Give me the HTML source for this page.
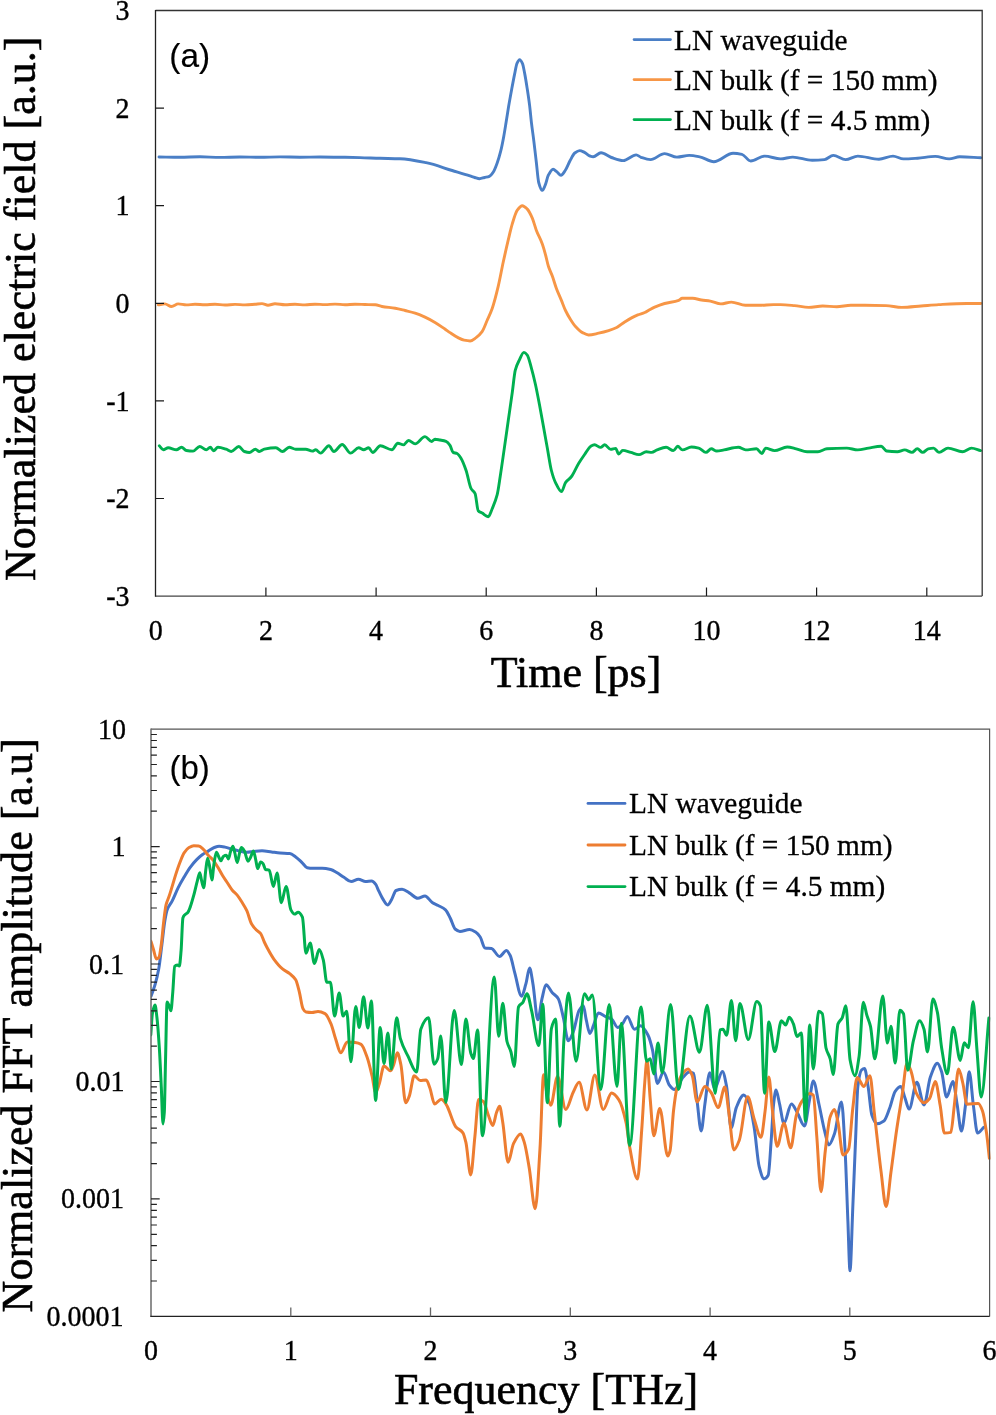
<!DOCTYPE html>
<html><head><meta charset="utf-8"><title>LN THz waveforms</title>
<style>
html,body{margin:0;padding:0;background:#fff;}
body{width:996px;height:1415px;overflow:hidden;}
svg{display:block;will-change:transform;}
.tk{font-family:"Liberation Serif", serif;font-size:28px;fill:#000;stroke:#000;stroke-width:0.35px;}
.ti{font-family:"Liberation Serif", serif;font-size:44px;fill:#000;stroke:#000;stroke-width:0.6px;}
.lg{font-family:"Liberation Serif", serif;font-size:29.35px;fill:#000;stroke:#000;stroke-width:0.3px;}
.lab{font-family:"Liberation Sans", sans-serif;font-size:33px;fill:#000;stroke:#000;stroke-width:0.15px;}
</style></head>
<body>
<svg width="996" height="1415" viewBox="0 0 996 1415">
<defs><clipPath id="clipB"><rect x="151.0" y="729.1" width="839.6" height="588.3000000000001"/></clipPath></defs>
<rect width="996" height="1415" fill="#fff"/>
<path d="M159.00,157.00 C166.00,157.10 173.00,157.30 180.00,157.30 C186.67,157.30 193.33,156.80 200.00,156.80 C206.67,156.80 213.33,157.40 220.00,157.40 C226.67,157.40 233.33,157.00 240.00,157.00 C246.67,157.00 253.33,157.30 260.00,157.30 C266.67,157.30 273.33,156.90 280.00,156.90 C286.67,156.90 293.33,157.20 300.00,157.20 C306.67,157.20 313.33,157.00 320.00,157.00 C328.33,157.00 336.67,157.17 345.00,157.30 C350.00,157.38 355.00,157.47 360.00,157.60 C366.67,157.77 373.33,158.11 380.00,158.30 C386.67,158.49 393.33,158.52 400.00,158.80 C408.70,159.16 417.40,160.97 426.10,162.70 C434.80,164.43 443.50,167.88 452.20,170.50 C458.13,172.29 464.07,174.00 470.00,175.90 C471.60,176.41 473.20,177.04 474.80,177.50 C476.40,177.96 478.00,178.70 479.60,178.70 C481.23,178.70 482.87,177.90 484.50,177.50 C486.10,177.10 487.70,176.96 489.30,176.30 C490.70,175.72 492.10,173.81 493.50,171.70 C494.70,169.89 495.90,166.61 497.10,163.30 C498.30,159.99 499.50,155.98 500.70,151.20 C501.70,147.21 502.70,142.08 503.70,136.70 C504.50,132.40 505.30,127.21 506.10,122.30 C506.93,117.19 507.77,111.54 508.60,106.60 C509.60,100.67 510.60,95.21 511.60,89.80 C512.60,84.39 513.60,78.93 514.60,74.10 C515.40,70.24 516.20,65.04 517.00,63.30 C517.87,61.41 518.73,59.60 519.60,59.60 C520.53,59.60 521.47,61.37 522.40,63.30 C523.20,64.96 524.00,69.97 524.80,74.10 C525.60,78.23 526.40,83.41 527.20,88.60 C528.00,93.79 528.80,98.94 529.60,105.40 C530.20,110.25 530.80,117.19 531.40,122.30 C532.23,129.40 533.07,134.86 533.90,141.60 C534.70,148.08 535.50,155.18 536.30,162.00 C537.10,168.82 537.90,179.59 538.70,182.50 C539.90,186.86 541.10,190.40 542.30,190.40 C543.30,190.40 544.30,187.23 545.30,184.90 C546.30,182.57 547.30,177.16 548.30,175.30 C549.90,172.32 551.50,169.30 553.10,169.30 C554.30,169.30 555.50,170.81 556.70,171.70 C558.13,172.76 559.57,175.30 561.00,175.30 C562.40,175.30 563.80,172.53 565.20,170.50 C566.80,168.18 568.40,163.68 570.00,160.80 C571.60,157.92 573.20,154.22 574.80,153.00 C576.40,151.78 578.00,150.60 579.60,150.60 C581.23,150.60 582.87,151.64 584.50,152.40 C586.33,153.26 588.17,155.42 590.00,156.00 C591.07,156.34 592.13,156.70 593.20,156.70 C595.80,156.70 598.40,152.80 601.00,152.80 C604.47,152.80 607.93,156.34 611.40,157.50 C615.33,158.81 619.27,160.60 623.20,160.60 C627.53,160.60 631.87,154.90 636.20,154.90 C637.80,154.90 639.40,156.76 641.00,157.30 C644.17,158.37 647.33,159.60 650.50,159.60 C655.20,159.60 659.90,153.60 664.60,153.60 C668.70,153.60 672.80,157.10 676.90,157.10 C681.00,157.10 685.10,155.40 689.20,155.40 C692.70,155.40 696.20,156.14 699.70,156.80 C704.40,157.69 709.10,161.70 713.80,161.70 C720.23,161.70 726.67,153.30 733.10,153.30 C736.03,153.30 738.97,153.72 741.90,154.30 C744.83,154.88 747.77,161.00 750.70,161.00 C755.37,161.00 760.03,156.10 764.70,156.10 C769.97,156.10 775.23,158.90 780.50,158.90 C784.60,158.90 788.70,157.10 792.80,157.10 C799.27,157.10 805.73,160.30 812.20,160.30 C816.30,160.30 820.40,160.04 824.50,159.60 C827.43,159.29 830.37,155.40 833.30,155.40 C837.40,155.40 841.50,159.60 845.60,159.60 C849.67,159.60 853.73,156.10 857.80,156.10 C864.83,156.10 871.87,159.20 878.90,159.20 C883.60,159.20 888.30,156.10 893.00,156.10 C896.50,156.10 900.00,158.90 903.50,158.90 C908.20,158.90 912.90,158.51 917.60,158.20 C923.47,157.81 929.33,156.40 935.20,156.40 C939.87,156.40 944.53,158.90 949.20,158.90 C952.70,158.90 956.20,156.80 959.70,156.80 C966.73,156.80 973.77,157.47 980.80,157.80" fill="none" stroke="#4A7FC6" stroke-width="2.9" stroke-linejoin="round" stroke-linecap="round"/>
<path d="M158.30,304.90 C160.50,304.57 162.70,303.90 164.90,303.90 C167.10,303.90 169.30,306.50 171.50,306.50 C173.73,306.50 175.97,303.90 178.20,303.90 C180.93,303.90 183.67,304.90 186.40,304.90 C189.27,304.90 192.13,304.30 195.00,304.30 C198.33,304.30 201.67,304.80 205.00,304.80 C208.33,304.80 211.67,304.20 215.00,304.20 C218.33,304.20 221.67,305.00 225.00,305.00 C228.33,305.00 231.67,304.40 235.00,304.40 C238.33,304.40 241.67,304.90 245.00,304.90 C248.33,304.90 251.67,304.46 255.00,304.20 C257.33,304.02 259.67,303.60 262.00,303.60 C264.00,303.60 266.00,305.20 268.00,305.20 C270.33,305.20 272.67,303.80 275.00,303.80 C278.33,303.80 281.67,304.80 285.00,304.80 C288.33,304.80 291.67,304.30 295.00,304.30 C298.33,304.30 301.67,304.90 305.00,304.90 C308.33,304.90 311.67,304.20 315.00,304.20 C318.33,304.20 321.67,304.60 325.00,304.60 C328.33,304.60 331.67,304.10 335.00,304.10 C338.33,304.10 341.67,304.70 345.00,304.70 C348.33,304.70 351.67,304.20 355.00,304.20 C358.33,304.20 361.67,304.40 365.00,304.50 C368.43,304.60 371.87,304.61 375.30,304.80 C377.53,304.92 379.77,306.10 382.00,306.50 C386.40,307.28 390.80,307.46 395.20,308.20 C398.50,308.75 401.80,309.69 405.10,310.50 C408.43,311.32 411.77,312.04 415.10,313.10 C418.40,314.14 421.70,315.59 425.00,317.10 C428.33,318.63 431.67,320.43 435.00,322.40 C438.30,324.35 441.60,326.73 444.90,329.00 C446.60,330.17 448.30,331.47 450.00,332.60 C452.67,334.38 455.33,336.26 458.00,337.60 C460.03,338.62 462.07,339.79 464.10,340.20 C466.10,340.61 468.10,341.00 470.10,341.00 C472.10,341.00 474.10,339.05 476.10,337.60 C478.10,336.15 480.10,334.39 482.10,331.60 C483.77,329.28 485.43,324.31 487.10,320.50 C488.80,316.62 490.50,313.35 492.20,308.50 C494.20,302.79 496.20,294.79 498.20,286.40 C499.87,279.41 501.53,269.99 503.20,262.30 C504.87,254.61 506.53,247.21 508.20,240.20 C509.53,234.59 510.87,228.49 512.20,224.10 C513.90,218.51 515.60,212.36 517.30,210.10 C518.97,207.88 520.63,205.70 522.30,205.70 C523.97,205.70 525.63,207.45 527.30,209.10 C528.97,210.75 530.63,214.30 532.30,218.10 C533.63,221.14 534.97,226.69 536.30,230.20 C538.33,235.56 540.37,238.53 542.40,244.20 C543.40,246.99 544.40,250.64 545.40,254.30 C546.40,257.96 547.40,263.19 548.40,266.30 C549.73,270.45 551.07,272.65 552.40,276.30 C553.73,279.95 555.07,284.82 556.40,288.40 C558.07,292.88 559.73,296.35 561.40,300.40 C562.77,303.72 564.13,307.64 565.50,310.50 C567.17,313.98 568.83,316.88 570.50,319.50 C572.17,322.12 573.83,324.69 575.50,326.50 C577.83,329.04 580.17,331.35 582.50,332.60 C584.53,333.69 586.57,335.00 588.60,335.00 C591.93,335.00 595.27,333.91 598.60,333.20 C601.93,332.49 605.27,331.64 608.60,330.60 C611.30,329.76 614.00,328.84 616.70,327.50 C619.37,326.18 622.03,323.53 624.70,321.90 C629.07,319.22 633.43,316.68 637.80,314.90 C640.13,313.95 642.47,313.52 644.80,312.50 C646.53,311.75 648.27,310.44 650.00,309.50 C651.37,308.76 652.73,308.00 654.10,307.40 C657.60,305.86 661.10,304.48 664.60,303.50 C669.30,302.19 674.00,302.07 678.70,300.40 C679.87,299.99 681.03,298.30 682.20,298.30 C685.70,298.30 689.20,298.30 692.70,298.30 C695.63,298.30 698.57,299.55 701.50,300.00 C704.43,300.45 707.37,300.61 710.30,301.10 C713.80,301.69 717.30,303.90 720.80,303.90 C724.33,303.90 727.87,302.10 731.40,302.10 C736.07,302.10 740.73,305.30 745.40,305.30 C750.10,305.30 754.80,305.30 759.50,305.30 C764.17,305.30 768.83,304.60 773.50,304.60 C775.83,304.60 778.17,304.60 780.50,304.60 C785.20,304.60 789.90,305.17 794.60,305.60 C799.30,306.03 804.00,307.40 808.70,307.40 C813.37,307.40 818.03,306.00 822.70,306.00 C827.40,306.00 832.10,306.70 836.80,306.70 C841.47,306.70 846.13,305.30 850.80,305.30 C855.50,305.30 860.20,305.30 864.90,305.30 C871.93,305.30 878.97,305.42 886.00,305.60 C891.27,305.74 896.53,307.40 901.80,307.40 C908.23,307.40 914.67,306.49 921.10,306.00 C926.97,305.55 932.83,304.92 938.70,304.60 C948.07,304.10 957.43,303.50 966.80,303.50 C971.47,303.50 976.13,303.50 980.80,303.50" fill="none" stroke="#F79646" stroke-width="2.9" stroke-linejoin="round" stroke-linecap="round"/>
<path d="M159.30,445.80 C160.63,447.13 161.97,449.80 163.30,449.80 C164.93,449.80 166.57,447.80 168.20,447.80 C170.97,447.80 173.73,449.80 176.50,449.80 C178.17,449.80 179.83,447.20 181.50,447.20 C183.13,447.20 184.77,450.23 186.40,450.50 C188.63,450.87 190.87,451.10 193.10,451.10 C195.30,451.10 197.50,446.50 199.70,446.50 C201.90,446.50 204.10,449.80 206.30,449.80 C207.63,449.80 208.97,447.20 210.30,447.20 C211.40,447.20 212.50,450.80 213.60,450.80 C215.03,450.80 216.47,447.20 217.90,447.20 C220.67,447.20 223.43,448.30 226.20,449.20 C227.87,449.74 229.53,451.50 231.20,451.50 C233.73,451.50 236.27,446.50 238.80,446.50 C240.67,446.50 242.53,450.90 244.40,451.50 C246.07,452.04 247.73,452.50 249.40,452.50 C251.40,452.50 253.40,449.20 255.40,449.20 C256.70,449.20 258.00,451.50 259.30,451.50 C260.97,451.50 262.63,449.55 264.30,449.20 C268.17,448.40 272.03,447.80 275.90,447.80 C278.10,447.80 280.30,451.50 282.50,451.50 C284.73,451.50 286.97,447.20 289.20,447.20 C291.40,447.20 293.60,449.20 295.80,449.20 C299.10,449.20 302.40,449.20 305.70,449.20 C307.93,449.20 310.17,451.10 312.40,451.10 C313.50,451.10 314.60,449.80 315.70,449.80 C317.33,449.80 318.97,453.10 320.60,453.10 C323.37,453.10 326.13,445.80 328.90,445.80 C330.57,445.80 332.23,451.50 333.90,451.50 C336.67,451.50 339.43,444.50 342.20,444.50 C344.97,444.50 347.73,453.10 350.50,453.10 C353.23,453.10 355.97,447.80 358.70,447.80 C360.37,447.80 362.03,449.80 363.70,449.80 C365.37,449.80 367.03,447.80 368.70,447.80 C370.03,447.80 371.37,452.50 372.70,452.50 C375.23,452.50 377.77,445.80 380.30,445.80 C384.17,445.80 388.03,449.80 391.90,449.80 C393.87,449.80 395.83,443.20 397.80,443.20 C399.70,443.20 401.60,444.90 403.50,444.90 C405.17,444.90 406.83,440.50 408.50,440.50 C410.70,440.50 412.90,443.90 415.10,443.90 C418.40,443.90 421.70,436.60 425.00,436.60 C427.20,436.60 429.40,441.50 431.60,441.50 C432.73,441.50 433.87,439.20 435.00,439.20 C436.67,439.20 438.33,439.69 440.00,440.00 C442.00,440.38 444.00,440.61 446.00,441.40 C447.33,441.93 448.67,443.52 450.00,445.40 C451.03,446.86 452.07,451.88 453.10,452.40 C454.43,453.08 455.77,452.90 457.10,453.50 C458.43,454.10 459.77,456.33 461.10,458.50 C462.77,461.21 464.43,465.69 466.10,470.50 C467.77,475.31 469.43,485.56 471.10,488.60 C472.43,491.03 473.77,490.81 475.10,493.60 C476.13,495.76 477.17,509.54 478.20,510.70 C479.53,512.19 480.87,512.30 482.20,513.10 C484.20,514.30 486.20,516.70 488.20,516.70 C489.53,516.70 490.87,511.80 492.20,508.70 C493.87,504.82 495.53,501.21 497.20,494.60 C498.20,490.64 499.20,482.90 500.20,476.50 C501.57,467.76 502.93,457.88 504.30,448.40 C505.63,439.15 506.97,429.67 508.30,420.30 C509.63,410.93 510.97,401.80 512.30,392.20 C513.30,385.00 514.30,373.92 515.30,370.10 C516.63,365.00 517.97,362.79 519.30,360.10 C520.83,357.01 522.37,352.40 523.90,352.40 C525.03,352.40 526.17,353.69 527.30,355.10 C528.67,356.80 530.03,363.25 531.40,368.10 C532.73,372.83 534.07,378.24 535.40,384.20 C536.73,390.16 538.07,397.30 539.40,404.30 C540.73,411.30 542.07,418.95 543.40,426.30 C544.73,433.65 546.07,441.03 547.40,448.40 C548.73,455.77 550.07,465.36 551.40,470.50 C552.77,475.76 554.13,479.82 555.50,482.60 C557.50,486.66 559.50,491.60 561.50,491.60 C562.83,491.60 564.17,484.52 565.50,482.60 C567.50,479.73 569.50,479.09 571.50,476.50 C573.87,473.43 576.23,467.39 578.60,463.50 C580.60,460.21 582.60,457.34 584.60,454.50 C586.60,451.66 588.60,447.59 590.60,446.40 C591.93,445.61 593.27,444.80 594.60,444.80 C596.60,444.80 598.60,447.40 600.60,447.40 C601.97,447.40 603.33,444.80 604.70,444.80 C606.70,444.80 608.70,449.40 610.70,449.40 C612.37,449.40 614.03,448.40 615.70,448.40 C616.70,448.40 617.70,454.10 618.70,454.10 C620.03,454.10 621.37,450.40 622.70,450.40 C625.40,450.40 628.10,451.71 630.80,452.40 C633.53,453.10 636.27,454.60 639.00,454.60 C641.43,454.60 643.87,451.70 646.30,451.70 C648.10,451.70 649.90,452.40 651.70,452.40 C653.50,452.40 655.30,450.55 657.10,449.90 C660.10,448.81 663.10,447.30 666.10,447.30 C668.53,447.30 670.97,450.60 673.40,450.60 C674.83,450.60 676.27,446.30 677.70,446.30 C679.27,446.30 680.83,449.90 682.40,449.90 C685.40,449.90 688.40,447.00 691.40,447.00 C693.83,447.00 696.27,447.51 698.70,448.10 C701.10,448.68 703.50,452.40 705.90,452.40 C707.70,452.40 709.50,448.80 711.30,448.80 C713.10,448.80 714.90,451.00 716.70,451.00 C719.13,451.00 721.57,450.30 724.00,449.90 C728.80,449.12 733.60,447.30 738.40,447.30 C740.80,447.30 743.20,449.90 745.60,449.90 C749.23,449.90 752.87,448.80 756.50,448.80 C758.30,448.80 760.10,453.50 761.90,453.50 C763.10,453.50 764.30,448.10 765.50,448.10 C768.53,448.10 771.57,450.60 774.60,450.60 C778.80,450.60 783.00,447.00 787.20,447.00 C790.20,447.00 793.20,448.12 796.20,448.80 C799.83,449.63 803.47,451.70 807.10,451.70 C810.70,451.70 814.30,451.70 817.90,451.70 C820.93,451.70 823.97,449.01 827.00,448.80 C833.60,448.33 840.20,448.10 846.80,448.10 C850.43,448.10 854.07,449.90 857.70,449.90 C861.30,449.90 864.90,448.65 868.50,448.10 C872.73,447.45 876.97,446.30 881.20,446.30 C883.00,446.30 884.80,450.76 886.60,451.00 C890.20,451.48 893.80,451.70 897.40,451.70 C899.83,451.70 902.27,449.90 904.70,449.90 C907.10,449.90 909.50,452.40 911.90,452.40 C913.70,452.40 915.50,448.80 917.30,448.80 C919.10,448.80 920.90,452.40 922.70,452.40 C924.53,452.40 926.37,449.20 928.20,448.80 C930.00,448.41 931.80,448.10 933.60,448.10 C935.40,448.10 937.20,452.40 939.00,452.40 C942.00,452.40 945.00,448.10 948.00,448.10 C952.83,448.10 957.67,451.70 962.50,451.70 C965.50,451.70 968.50,448.10 971.50,448.10 C974.53,448.10 977.57,449.77 980.60,450.60" fill="none" stroke="#00B050" stroke-width="2.9" stroke-linejoin="round" stroke-linecap="round"/>
<path d="M151.00,996.30 C152.40,992.27 153.80,989.07 155.20,984.20 C156.40,980.03 157.60,975.33 158.80,968.60 C159.83,962.81 160.87,952.67 161.90,944.50 C162.90,936.60 163.90,926.14 164.90,920.40 C165.70,915.81 166.50,911.63 167.30,909.50 C168.90,905.25 170.50,904.22 172.10,901.10 C174.10,897.21 176.10,891.77 178.10,887.80 C180.10,883.83 182.10,880.38 184.10,877.00 C186.13,873.57 188.17,870.08 190.20,867.30 C192.20,864.57 194.20,862.16 196.20,860.10 C198.20,858.04 200.20,856.14 202.20,854.70 C204.20,853.26 206.20,852.29 208.20,851.10 C210.23,849.89 212.27,848.20 214.30,847.50 C215.90,846.95 217.50,846.30 219.10,846.30 C221.10,846.30 223.10,846.73 225.10,847.10 C227.50,847.54 229.90,848.64 232.30,849.30 C234.73,849.96 237.17,850.62 239.60,851.10 C242.00,851.58 244.40,852.30 246.80,852.30 C249.20,852.30 251.60,851.63 254.00,851.40 C256.67,851.15 259.33,850.80 262.00,850.80 C265.20,850.80 268.40,851.61 271.60,852.00 C274.43,852.34 277.27,852.79 280.10,853.00 C283.30,853.23 286.50,853.17 289.70,853.50 C291.70,853.70 293.70,855.52 295.70,856.90 C297.73,858.30 299.77,860.39 301.80,862.30 C303.60,863.99 305.40,867.34 307.20,867.70 C309.00,868.06 310.80,868.30 312.60,868.30 C315.80,868.30 319.00,868.30 322.20,868.30 C325.03,868.30 327.87,868.86 330.70,869.50 C332.70,869.96 334.70,871.36 336.70,872.50 C339.10,873.87 341.50,875.80 343.90,877.30 C346.33,878.82 348.77,881.60 351.20,881.60 C353.60,881.60 356.00,879.20 358.40,879.20 C360.80,879.20 363.20,881.60 365.60,881.60 C367.60,881.60 369.60,881.00 371.60,881.00 C373.03,881.00 374.47,882.76 375.90,884.60 C376.60,885.50 377.30,887.81 378.00,889.30 C379.60,892.70 381.20,896.44 382.80,898.90 C384.40,901.36 386.00,904.90 387.60,904.90 C388.83,904.90 390.07,902.02 391.30,900.10 C392.90,897.60 394.50,891.10 396.10,890.50 C398.10,889.75 400.10,889.30 402.10,889.30 C404.50,889.30 406.90,891.56 409.30,892.90 C412.13,894.48 414.97,898.30 417.80,898.30 C420.20,898.30 422.60,895.90 425.00,895.90 C427.40,895.90 429.80,900.96 432.20,902.50 C434.20,903.78 436.20,904.42 438.20,905.50 C440.63,906.81 443.07,907.58 445.50,909.80 C447.10,911.26 448.70,915.05 450.30,918.20 C451.90,921.35 453.50,927.69 455.10,929.00 C456.70,930.31 458.30,931.40 459.90,931.40 C463.13,931.40 466.37,929.60 469.60,929.60 C471.60,929.60 473.60,930.81 475.60,932.00 C477.13,932.92 478.67,934.74 480.20,937.00 C481.80,939.35 483.40,947.75 485.00,948.00 C487.17,948.34 489.33,948.20 491.50,948.50 C494.17,948.87 496.83,956.50 499.50,956.50 C501.83,956.50 504.17,950.50 506.50,950.50 C507.70,950.50 508.90,952.99 510.10,955.30 C511.70,958.38 513.30,967.65 514.90,973.40 C517.13,981.43 519.37,996.30 521.60,996.30 C523.00,996.30 524.40,989.03 525.80,984.20 C527.07,979.83 528.33,968.00 529.60,968.00 C530.73,968.00 531.87,977.70 533.00,984.20 C534.60,993.37 536.20,1019.80 537.80,1019.80 C539.20,1019.80 540.60,1004.44 542.00,998.70 C543.33,993.23 544.67,984.80 546.00,984.80 C548.10,984.80 550.20,990.37 552.30,992.70 C554.30,994.92 556.30,995.49 558.30,998.70 C560.00,1001.43 561.70,1010.73 563.40,1017.80 C565.03,1024.60 566.67,1040.70 568.30,1040.70 C569.90,1040.70 571.50,1036.03 573.10,1032.30 C575.10,1027.64 577.10,1013.97 579.10,1010.60 C580.50,1008.24 581.90,1005.80 583.30,1005.80 C584.30,1005.80 585.30,1016.01 586.30,1020.20 C587.50,1025.23 588.70,1033.50 589.90,1033.50 C591.13,1033.50 592.37,1028.04 593.60,1025.10 C595.20,1021.29 596.80,1013.00 598.40,1013.00 C600.80,1013.00 603.20,1015.54 605.60,1016.60 C607.60,1017.49 609.60,1017.76 611.60,1019.00 C613.63,1020.26 615.67,1027.50 617.70,1027.50 C619.30,1027.50 620.90,1025.51 622.50,1023.90 C624.10,1022.29 625.70,1016.60 627.30,1016.60 C629.70,1016.60 632.10,1029.30 634.50,1029.30 C636.50,1029.30 638.50,1025.70 640.50,1025.70 C642.93,1025.70 645.37,1030.20 647.80,1034.70 C649.40,1037.66 651.00,1043.30 652.60,1050.40 C654.20,1057.50 655.80,1083.50 657.40,1083.50 C659.40,1083.50 661.40,1072.00 663.40,1072.00 C665.43,1072.00 667.47,1082.80 669.50,1085.30 C671.10,1087.26 672.70,1089.50 674.30,1089.50 C677.30,1089.50 680.30,1079.94 683.30,1076.90 C685.30,1074.87 687.30,1072.00 689.30,1072.00 C690.70,1072.00 692.10,1072.45 693.50,1073.30 C694.70,1074.03 695.90,1091.99 697.10,1101.00 C698.47,1111.26 699.83,1131.00 701.20,1131.00 C702.43,1131.00 703.67,1112.53 704.90,1104.10 C706.53,1092.94 708.17,1072.70 709.80,1072.70 C711.40,1072.70 713.00,1088.90 714.60,1088.90 C717.20,1088.90 719.80,1071.40 722.40,1071.40 C723.80,1071.40 725.20,1079.29 726.60,1086.50 C728.10,1094.22 729.60,1128.00 731.10,1128.00 C732.83,1128.00 734.57,1111.78 736.30,1107.60 C738.80,1101.57 741.30,1095.00 743.80,1095.00 C745.70,1095.00 747.60,1099.43 749.50,1104.10 C751.10,1108.03 752.70,1118.40 754.30,1128.20 C755.93,1138.20 757.57,1160.48 759.20,1166.70 C760.80,1172.80 762.40,1178.80 764.00,1178.80 C765.40,1178.80 766.80,1177.55 768.20,1175.20 C769.20,1173.52 770.20,1153.40 771.20,1140.20 C772.00,1129.64 772.80,1110.86 773.60,1104.10 C774.40,1097.34 775.20,1090.00 776.00,1090.00 C777.20,1090.00 778.40,1099.09 779.60,1104.10 C781.03,1110.08 782.47,1123.40 783.90,1123.40 C786.40,1123.40 788.90,1104.00 791.40,1104.00 C793.27,1104.00 795.13,1109.00 797.00,1112.00 C799.50,1116.02 802.00,1126.00 804.50,1126.00 C806.17,1126.00 807.83,1108.49 809.50,1100.00 C810.77,1093.55 812.03,1081.00 813.30,1081.00 C815.17,1081.00 817.03,1095.80 818.90,1104.00 C820.80,1112.34 822.70,1123.51 824.60,1130.90 C826.00,1136.35 827.40,1145.00 828.80,1145.00 C830.70,1145.00 832.60,1138.88 834.50,1133.70 C836.83,1127.34 839.17,1101.90 841.50,1101.90 C842.70,1101.90 843.90,1129.27 845.10,1150.70 C846.03,1167.37 846.97,1198.60 847.90,1221.30 C848.60,1238.33 849.30,1270.80 850.00,1270.80 C850.93,1270.80 851.87,1229.15 852.80,1207.20 C853.77,1184.47 854.73,1159.62 855.70,1136.50 C856.40,1119.76 857.10,1092.86 857.80,1087.10 C859.03,1076.94 860.27,1071.15 861.50,1070.00 C862.50,1069.07 863.50,1068.40 864.50,1068.40 C865.70,1068.40 866.90,1079.26 868.10,1086.50 C869.37,1094.14 870.63,1111.68 871.90,1115.30 C873.57,1120.07 875.23,1123.80 876.90,1123.80 C879.23,1123.80 881.57,1122.62 883.90,1121.00 C885.80,1119.68 887.70,1113.19 889.60,1108.30 C891.47,1103.50 893.33,1093.80 895.20,1091.30 C897.07,1088.80 898.93,1086.50 900.80,1086.50 C902.20,1086.50 903.60,1094.19 905.00,1098.00 C906.37,1101.72 907.73,1109.10 909.10,1109.10 C911.70,1109.10 914.30,1082.30 916.90,1082.30 C919.27,1082.30 921.63,1104.90 924.00,1104.90 C926.10,1104.90 928.20,1083.08 930.30,1077.30 C932.67,1070.78 935.03,1063.20 937.40,1063.20 C938.80,1063.20 940.20,1067.70 941.60,1071.70 C943.27,1076.46 944.93,1097.10 946.60,1097.10 C948.70,1097.10 950.80,1081.60 952.90,1081.60 C954.30,1081.60 955.70,1096.12 957.10,1104.20 C958.53,1112.48 959.97,1131.00 961.40,1131.00 C962.80,1131.00 964.20,1114.71 965.60,1104.20 C966.80,1095.19 968.00,1071.70 969.20,1071.70 C970.60,1071.70 972.00,1095.48 973.40,1105.60 C974.80,1115.72 976.20,1133.10 977.60,1133.10 C979.63,1133.10 981.67,1129.23 983.70,1127.30" fill="none" stroke="#4472C4" stroke-width="3.0" stroke-linejoin="round" stroke-linecap="round" clip-path="url(#clipB)"/>
<path d="M151.00,941.40 C151.80,944.03 152.60,946.70 153.40,949.30 C154.40,952.55 155.40,958.90 156.40,958.90 C157.20,958.90 158.00,958.43 158.80,957.70 C159.63,956.94 160.47,950.18 161.30,944.50 C162.10,939.05 162.90,928.08 163.70,921.60 C164.50,915.12 165.30,907.96 166.10,904.70 C167.10,900.63 168.10,899.30 169.10,896.30 C170.10,893.30 171.10,889.88 172.10,886.60 C173.30,882.66 174.50,878.32 175.70,874.60 C177.10,870.26 178.50,866.07 179.90,862.50 C181.30,858.93 182.70,855.00 184.10,852.90 C185.73,850.45 187.37,848.41 189.00,847.50 C190.60,846.61 192.20,845.70 193.80,845.70 C195.40,845.70 197.00,845.82 198.60,846.00 C200.20,846.18 201.80,847.88 203.40,849.30 C205.00,850.72 206.60,853.54 208.20,855.30 C209.83,857.09 211.47,858.16 213.10,860.10 C214.70,862.00 216.30,864.70 217.90,867.30 C219.50,869.90 221.10,873.20 222.70,875.80 C224.30,878.40 225.90,880.60 227.50,883.00 C229.10,885.40 230.70,888.28 232.30,890.20 C233.93,892.16 235.57,893.14 237.20,895.10 C238.80,897.02 240.40,899.72 242.00,902.30 C243.60,904.88 245.20,907.27 246.80,910.70 C248.40,914.13 250.00,921.24 251.60,924.00 C253.20,926.76 254.80,928.40 256.40,930.00 C257.83,931.43 259.27,931.81 260.70,933.60 C261.90,935.10 263.10,939.42 264.30,942.00 C265.30,944.15 266.30,946.15 267.30,948.00 C269.53,952.13 271.77,956.25 274.00,959.30 C276.83,963.16 279.67,966.54 282.50,968.90 C284.90,970.90 287.30,971.76 289.70,973.70 C291.70,975.32 293.70,976.54 295.70,979.80 C296.90,981.76 298.10,987.18 299.30,991.80 C300.53,996.55 301.77,1006.56 303.00,1008.70 C304.00,1010.44 305.00,1011.83 306.00,1012.00 C308.00,1012.34 310.00,1012.50 312.00,1012.50 C314.00,1012.50 316.00,1011.50 318.00,1011.50 C320.33,1011.50 322.67,1012.39 325.00,1013.60 C327.00,1014.64 329.00,1019.35 331.00,1023.90 C332.60,1027.54 334.20,1034.77 335.80,1039.50 C337.43,1044.33 339.07,1052.80 340.70,1052.80 C342.90,1052.80 345.10,1041.90 347.30,1041.90 C349.90,1041.90 352.50,1042.17 355.10,1042.50 C357.10,1042.75 359.10,1043.25 361.10,1044.30 C363.13,1045.37 365.17,1051.92 367.20,1057.60 C368.80,1062.07 370.40,1068.99 372.00,1075.70 C373.20,1080.73 374.40,1092.50 375.60,1092.50 C376.80,1092.50 378.00,1087.52 379.20,1084.10 C380.80,1079.54 382.40,1066.00 384.00,1066.00 C386.23,1066.00 388.47,1070.80 390.70,1070.80 C391.70,1070.80 392.70,1067.28 393.70,1064.80 C394.90,1061.82 396.10,1052.80 397.30,1052.80 C398.50,1052.80 399.70,1059.28 400.90,1064.80 C402.50,1072.16 404.10,1102.80 405.70,1102.80 C406.90,1102.80 408.10,1099.13 409.30,1096.10 C410.93,1091.98 412.57,1075.70 414.20,1075.70 C416.20,1075.70 418.20,1080.50 420.20,1080.50 C422.20,1080.50 424.20,1079.90 426.20,1079.90 C427.40,1079.90 428.60,1084.56 429.80,1087.70 C431.40,1091.89 433.00,1104.00 434.60,1104.00 C436.83,1104.00 439.07,1099.20 441.30,1099.20 C442.47,1099.20 443.63,1100.84 444.80,1102.20 C445.60,1103.13 446.40,1104.75 447.20,1106.30 C450.03,1111.78 452.87,1123.20 455.70,1126.70 C458.10,1129.67 460.50,1129.31 462.90,1132.80 C463.90,1134.26 464.90,1138.17 465.90,1142.40 C467.50,1149.17 469.10,1174.90 470.70,1174.90 C472.10,1174.90 473.50,1149.77 474.90,1136.40 C476.13,1124.62 477.37,1099.60 478.60,1099.60 C480.20,1099.60 481.80,1100.34 483.40,1101.40 C485.00,1102.46 486.60,1110.64 488.20,1114.70 C489.73,1118.60 491.27,1125.50 492.80,1125.50 C494.07,1125.50 495.33,1115.48 496.60,1112.30 C497.60,1109.79 498.60,1106.30 499.60,1106.30 C500.63,1106.30 501.67,1115.79 502.70,1121.90 C504.50,1132.54 506.30,1162.30 508.10,1162.30 C509.90,1162.30 511.70,1147.14 513.50,1143.60 C515.90,1138.88 518.30,1134.00 520.70,1134.00 C521.90,1134.00 523.10,1138.62 524.30,1142.40 C525.93,1147.55 527.57,1158.14 529.20,1167.70 C531.20,1179.41 533.20,1208.70 535.20,1208.70 C536.80,1208.70 538.40,1173.60 540.00,1148.40 C541.20,1129.50 542.40,1074.70 543.60,1074.70 C544.80,1074.70 546.00,1090.47 547.20,1095.00 C548.40,1099.53 549.60,1105.20 550.80,1105.20 C553.03,1105.20 555.27,1076.50 557.50,1076.50 C560.27,1076.50 563.03,1109.40 565.80,1109.40 C568.23,1109.40 570.67,1097.25 573.10,1092.50 C575.10,1088.60 577.10,1082.30 579.10,1082.30 C581.70,1082.30 584.30,1110.00 586.90,1110.00 C589.53,1110.00 592.17,1075.10 594.80,1075.10 C597.60,1075.10 600.40,1109.40 603.20,1109.40 C606.00,1109.40 608.80,1093.10 611.60,1093.10 C614.03,1093.10 616.47,1096.33 618.90,1099.80 C621.30,1103.22 623.70,1111.87 626.10,1122.70 C627.30,1128.11 628.50,1140.79 629.70,1147.10 C632.30,1160.78 634.90,1179.00 637.50,1179.00 C638.90,1179.00 640.30,1148.96 641.70,1130.20 C642.73,1116.36 643.77,1094.42 644.80,1082.00 C645.53,1073.18 646.27,1060.00 647.00,1060.00 C648.07,1060.00 649.13,1087.14 650.20,1099.00 C651.40,1112.35 652.60,1135.70 653.80,1135.70 C655.80,1135.70 657.80,1108.40 659.80,1108.40 C662.43,1108.40 665.07,1156.10 667.70,1156.10 C668.47,1156.10 669.23,1153.71 670.00,1151.00 C671.20,1146.76 672.40,1120.14 673.60,1110.00 C674.60,1101.55 675.60,1093.73 676.60,1089.60 C678.40,1082.17 680.20,1076.98 682.00,1074.50 C684.03,1071.70 686.07,1069.00 688.10,1069.00 C689.50,1069.00 690.90,1072.28 692.30,1075.70 C693.90,1079.61 695.50,1102.00 697.10,1102.00 C699.70,1102.00 702.30,1086.50 704.90,1086.50 C707.07,1086.50 709.23,1090.05 711.40,1093.00 C713.67,1096.08 715.93,1107.60 718.20,1107.60 C720.40,1107.60 722.60,1087.10 724.80,1087.10 C726.20,1087.10 727.60,1104.17 729.00,1113.70 C730.63,1124.82 732.27,1149.90 733.90,1149.90 C735.70,1149.90 737.50,1144.84 739.30,1140.20 C742.10,1132.99 744.90,1096.80 747.70,1096.80 C749.90,1096.80 752.10,1112.82 754.30,1119.40 C756.53,1126.08 758.77,1137.20 761.00,1137.20 C762.40,1137.20 763.80,1120.76 765.20,1110.10 C766.40,1100.96 767.60,1077.00 768.80,1077.00 C770.00,1077.00 771.20,1100.11 772.40,1110.10 C774.00,1123.42 775.60,1146.30 777.20,1146.30 C779.43,1146.30 781.67,1123.20 783.90,1123.20 C786.17,1123.20 788.43,1147.80 790.70,1147.80 C792.57,1147.80 794.43,1121.78 796.30,1115.30 C798.20,1108.70 800.10,1103.96 802.00,1101.20 C804.57,1097.47 807.13,1093.50 809.70,1093.50 C810.90,1093.50 812.10,1094.11 813.30,1095.20 C814.47,1096.26 815.63,1122.02 816.80,1136.50 C818.20,1153.88 819.60,1191.70 821.00,1191.70 C822.43,1191.70 823.87,1162.25 825.30,1150.70 C826.93,1137.54 828.57,1121.00 830.20,1116.70 C831.63,1112.93 833.07,1109.60 834.50,1109.60 C835.67,1109.60 836.83,1117.03 838.00,1122.40 C839.67,1130.07 841.33,1154.90 843.00,1154.90 C844.87,1154.90 846.73,1152.82 848.60,1149.30 C850.00,1146.66 851.40,1119.73 852.80,1108.30 C854.27,1096.33 855.73,1077.50 857.20,1077.50 C859.43,1077.50 861.67,1086.50 863.90,1086.50 C865.90,1086.50 867.90,1075.70 869.90,1075.70 C871.33,1075.70 872.77,1099.56 874.20,1111.80 C876.50,1131.44 878.80,1154.27 881.10,1171.90 C882.77,1184.68 884.43,1206.50 886.10,1206.50 C887.73,1206.50 889.37,1183.73 891.00,1171.90 C892.90,1158.14 894.80,1142.48 896.70,1129.50 C898.57,1116.75 900.43,1106.14 902.30,1094.10 C903.87,1084.00 905.43,1063.20 907.00,1063.20 C908.40,1063.20 909.80,1067.90 911.20,1071.70 C912.87,1076.22 914.53,1089.51 916.20,1092.90 C918.80,1098.19 921.40,1102.80 924.00,1102.80 C925.87,1102.80 927.73,1100.77 929.60,1098.50 C931.50,1096.19 933.40,1081.60 935.30,1081.60 C936.93,1081.60 938.57,1096.41 940.20,1105.60 C941.60,1113.47 943.00,1133.10 944.40,1133.10 C946.53,1133.10 948.67,1132.91 950.80,1132.40 C951.97,1132.12 953.13,1115.00 954.30,1105.60 C955.73,1094.05 957.17,1068.90 958.60,1068.90 C960.00,1068.90 961.40,1077.35 962.80,1083.00 C964.20,1088.65 965.60,1104.20 967.00,1104.20 C970.77,1104.20 974.53,1103.50 978.30,1103.50 C979.73,1103.50 981.17,1107.29 982.60,1111.20 C983.93,1114.84 985.27,1124.25 986.60,1133.50 C987.53,1139.97 988.47,1150.03 989.40,1158.30" fill="none" stroke="#ED7D31" stroke-width="3.0" stroke-linejoin="round" stroke-linecap="round" clip-path="url(#clipB)"/>
<path d="M150.80,1035.00 C151.33,1027.80 151.87,1016.30 152.40,1013.40 C153.27,1008.69 154.13,1005.10 155.00,1005.10 C155.63,1005.10 156.27,1011.90 156.90,1017.20 C157.73,1024.17 158.57,1035.90 159.40,1049.00 C160.03,1058.96 160.67,1073.91 161.30,1087.10 C161.87,1098.91 162.43,1123.90 163.00,1123.90 C163.43,1123.90 163.87,1118.85 164.30,1112.50 C164.70,1106.64 165.10,1077.63 165.50,1061.70 C166.03,1040.46 166.57,1001.90 167.10,1001.90 C167.73,1001.90 168.37,1004.25 169.00,1005.70 C169.63,1007.15 170.27,1010.80 170.90,1010.80 C171.53,1010.80 172.17,999.05 172.80,991.80 C173.43,984.55 174.07,967.06 174.70,966.40 C175.53,965.53 176.37,965.10 177.20,965.10 C177.90,965.10 178.60,966.10 179.30,966.10 C179.90,966.10 180.50,957.53 181.10,950.50 C181.70,943.47 182.30,919.89 182.90,918.00 C183.50,916.11 184.10,915.56 184.70,914.90 C185.73,913.76 186.77,913.72 187.80,912.50 C188.60,911.56 189.40,909.22 190.20,907.10 C191.40,903.92 192.60,899.48 193.80,895.10 C195.00,890.72 196.20,884.89 197.40,880.60 C198.20,877.74 199.00,872.80 199.80,872.80 C200.40,872.80 201.00,878.30 201.60,880.60 C202.30,883.29 203.00,887.80 203.70,887.80 C204.40,887.80 205.10,874.91 205.80,869.80 C206.40,865.42 207.00,858.30 207.60,858.30 C208.40,858.30 209.20,864.57 210.00,868.60 C210.63,871.79 211.27,880.00 211.90,880.00 C212.60,880.00 213.30,867.85 214.00,863.70 C214.80,858.96 215.60,852.30 216.40,852.30 C217.30,852.30 218.20,856.07 219.10,857.70 C219.70,858.78 220.30,860.70 220.90,860.70 C221.70,860.70 222.50,857.03 223.30,856.50 C224.30,855.83 225.30,855.30 226.30,855.30 C227.03,855.30 227.77,858.90 228.50,858.90 C229.17,858.90 229.83,853.56 230.50,851.70 C231.30,849.47 232.10,846.30 232.90,846.30 C233.50,846.30 234.10,850.11 234.70,852.30 C235.53,855.34 236.37,862.50 237.20,862.50 C238.00,862.50 238.80,855.62 239.60,852.90 C240.20,850.86 240.80,847.50 241.40,847.50 C242.40,847.50 243.40,849.43 244.40,851.10 C245.60,853.10 246.80,861.30 248.00,861.30 C248.80,861.30 249.60,859.12 250.40,857.70 C251.40,855.93 252.40,851.10 253.40,851.10 C254.20,851.10 255.00,856.74 255.80,860.10 C256.40,862.62 257.00,868.60 257.60,868.60 C258.63,868.60 259.67,861.90 260.70,861.90 C261.50,861.90 262.30,862.78 263.10,863.70 C263.90,864.62 264.70,869.24 265.50,869.50 C266.73,869.90 267.97,869.72 269.20,870.10 C270.60,870.53 272.00,886.40 273.40,886.40 C274.63,886.40 275.87,873.10 277.10,873.10 C278.50,873.10 279.90,902.70 281.30,902.70 C282.90,902.70 284.50,886.40 286.10,886.40 C287.70,886.40 289.30,906.97 290.90,909.90 C292.10,912.10 293.30,914.10 294.50,914.10 C295.70,914.10 296.90,912.30 298.10,912.30 C299.53,912.30 300.97,914.15 302.40,917.10 C303.60,919.57 304.80,953.30 306.00,953.30 C307.40,953.30 308.80,943.00 310.20,943.00 C311.60,943.00 313.00,963.50 314.40,963.50 C316.00,963.50 317.60,949.60 319.20,949.60 C320.60,949.60 322.00,955.25 323.40,960.50 C324.53,964.75 325.67,982.30 326.80,982.30 C328.00,982.30 329.20,982.30 330.40,982.30 C331.80,982.30 333.20,1016.00 334.60,1016.00 C336.13,1016.00 337.67,993.10 339.20,993.10 C340.50,993.10 341.80,1016.00 343.10,1016.00 C344.30,1016.00 345.50,1011.20 346.70,1011.20 C348.10,1011.20 349.50,1061.80 350.90,1061.80 C352.50,1061.80 354.10,1006.40 355.70,1006.40 C356.90,1006.40 358.10,1027.50 359.30,1027.50 C360.73,1027.50 362.17,996.70 363.60,996.70 C365.00,996.70 366.40,1028.10 367.80,1028.10 C369.00,1028.10 370.20,1001.00 371.40,1001.00 C372.80,1001.00 374.20,1100.40 375.60,1100.40 C377.13,1100.40 378.67,1027.50 380.20,1027.50 C381.47,1027.50 382.73,1063.60 384.00,1063.60 C385.30,1063.60 386.60,1032.90 387.90,1032.90 C389.03,1032.90 390.17,1069.00 391.30,1069.00 C393.10,1069.00 394.90,1017.80 396.70,1017.80 C397.90,1017.80 399.10,1034.13 400.30,1038.30 C402.90,1047.34 405.50,1051.06 408.10,1056.40 C410.93,1062.22 413.77,1072.00 416.60,1072.00 C418.00,1072.00 419.40,1033.20 420.80,1029.30 C423.40,1022.06 426.00,1017.80 428.60,1017.80 C430.40,1017.80 432.20,1064.20 434.00,1064.20 C435.23,1064.20 436.47,1061.87 437.70,1058.80 C438.73,1056.23 439.77,1035.90 440.80,1035.90 C442.47,1035.90 444.13,1102.50 445.80,1102.50 C448.60,1102.50 451.40,1010.60 454.20,1010.60 C456.60,1010.60 459.00,1064.50 461.40,1064.50 C462.90,1064.50 464.40,1019.00 465.90,1019.00 C467.50,1019.00 469.10,1047.85 470.70,1052.80 C471.60,1055.58 472.50,1058.50 473.40,1058.50 C474.80,1058.50 476.20,1029.90 477.60,1029.90 C479.20,1029.90 480.80,1135.80 482.40,1135.80 C486.37,1135.80 490.33,977.00 494.30,977.00 C495.77,977.00 497.23,1036.30 498.70,1036.30 C500.07,1036.30 501.43,1003.20 502.80,1003.20 C504.20,1003.20 505.60,1035.85 507.00,1041.50 C508.30,1046.75 509.60,1047.43 510.90,1051.70 C512.03,1055.42 513.17,1066.50 514.30,1066.50 C515.70,1066.50 517.10,1009.80 518.50,1007.00 C519.97,1004.07 521.43,1004.38 522.90,1002.30 C524.27,1000.37 525.63,993.80 527.00,993.80 C528.57,993.80 530.13,1004.68 531.70,1011.20 C534.07,1021.04 536.43,1045.60 538.80,1045.60 C540.13,1045.60 541.47,1004.30 542.80,1004.30 C544.30,1004.30 545.80,1102.70 547.30,1102.70 C548.67,1102.70 550.03,1034.31 551.40,1028.70 C552.80,1022.95 554.20,1019.00 555.60,1019.00 C557.00,1019.00 558.40,1126.20 559.80,1126.20 C561.20,1126.20 562.60,1057.38 564.00,1038.30 C565.50,1017.86 567.00,993.10 568.50,993.10 C571.03,993.10 573.57,1061.20 576.10,1061.20 C578.90,1061.20 581.70,993.70 584.50,993.70 C585.90,993.70 587.30,999.80 588.70,999.80 C589.90,999.80 591.10,994.90 592.30,994.90 C595.13,994.90 597.97,1089.50 600.80,1089.50 C603.60,1089.50 606.40,1004.60 609.20,1004.60 C611.80,1004.60 614.40,1086.50 617.00,1086.50 C618.43,1086.50 619.87,1023.30 621.30,1023.30 C624.10,1023.30 626.90,1145.30 629.70,1145.30 C633.50,1145.30 637.30,1007.00 641.10,1007.00 C642.93,1007.00 644.77,1061.20 646.60,1061.20 C647.80,1061.20 649.00,1058.80 650.20,1058.80 C651.40,1058.80 652.60,1073.90 653.80,1073.90 C655.20,1073.90 656.60,1043.10 658.00,1043.10 C659.40,1043.10 660.80,1072.70 662.20,1072.70 C665.03,1072.70 667.87,1004.60 670.70,1004.60 C673.27,1004.60 675.83,1089.50 678.40,1089.50 C682.23,1089.50 686.07,1016.00 689.90,1016.00 C693.10,1016.00 696.30,1052.20 699.50,1052.20 C702.10,1052.20 704.70,1005.20 707.30,1005.20 C709.93,1005.20 712.57,1093.50 715.20,1093.50 C716.80,1093.50 718.40,1030.49 720.00,1029.90 C721.00,1029.53 722.00,1029.30 723.00,1029.30 C724.20,1029.30 725.40,1035.30 726.60,1035.30 C728.20,1035.30 729.80,1000.40 731.40,1000.40 C732.83,1000.40 734.27,1040.70 735.70,1040.70 C737.10,1040.70 738.50,1003.40 739.90,1003.40 C742.70,1003.40 745.50,1039.50 748.30,1039.50 C751.10,1039.50 753.90,1001.60 756.70,1001.60 C757.93,1001.60 759.17,1003.19 760.40,1005.80 C761.80,1008.76 763.20,1093.20 764.60,1093.20 C766.00,1093.20 767.40,1022.00 768.80,1022.00 C770.80,1022.00 772.80,1051.60 774.80,1051.60 C777.00,1051.60 779.20,1020.80 781.40,1020.80 C782.83,1020.80 784.27,1025.10 785.70,1025.10 C786.87,1025.10 788.03,1017.20 789.20,1017.20 C790.60,1017.20 792.00,1020.80 793.40,1023.90 C794.60,1026.56 795.80,1036.50 797.00,1036.50 C798.43,1036.50 799.87,1032.90 801.30,1032.90 C802.70,1032.90 804.10,1121.20 805.50,1121.20 C806.90,1121.20 808.30,1025.10 809.70,1025.10 C810.90,1025.10 812.10,1069.00 813.30,1069.00 C815.10,1069.00 816.90,1011.20 818.70,1011.20 C819.90,1011.20 821.10,1012.11 822.30,1013.60 C823.53,1015.13 824.77,1042.97 826.00,1048.00 C827.40,1053.71 828.80,1053.88 830.20,1058.80 C831.20,1062.32 832.20,1074.50 833.20,1074.50 C834.80,1074.50 836.40,1027.92 838.00,1023.90 C839.40,1020.38 840.80,1020.66 842.20,1017.80 C843.40,1015.35 844.60,1005.80 845.80,1005.80 C847.23,1005.80 848.67,1052.47 850.10,1060.00 C851.70,1068.40 853.30,1075.70 854.90,1075.70 C856.30,1075.70 857.70,1065.89 859.10,1056.40 C860.50,1046.91 861.90,1002.20 863.30,1002.20 C864.50,1002.20 865.70,1011.42 866.90,1015.40 C868.10,1019.38 869.30,1021.18 870.50,1026.30 C871.93,1032.42 873.37,1058.80 874.80,1058.80 C877.47,1058.80 880.13,996.10 882.80,996.10 C884.33,996.10 885.87,1043.10 887.40,1043.10 C888.60,1043.10 889.80,1026.30 891.00,1026.30 C892.40,1026.30 893.80,1063.00 895.20,1063.00 C896.77,1063.00 898.33,1010.30 899.90,1010.30 C901.10,1010.30 902.30,1011.67 903.50,1013.80 C904.90,1016.28 906.30,1070.30 907.70,1070.30 C909.60,1070.30 911.50,1048.08 913.40,1040.60 C915.50,1032.33 917.60,1020.80 919.70,1020.80 C921.13,1020.80 922.57,1024.88 924.00,1029.30 C925.17,1032.90 926.33,1051.90 927.50,1051.90 C929.30,1051.90 931.10,999.00 932.90,999.00 C934.40,999.00 935.90,1005.77 937.40,1012.40 C938.80,1018.59 940.20,1039.28 941.60,1047.70 C943.50,1059.13 945.40,1073.80 947.30,1073.80 C949.27,1073.80 951.23,1027.20 953.20,1027.20 C955.57,1027.20 957.93,1060.40 960.30,1060.40 C961.60,1060.40 962.90,1042.70 964.20,1042.70 C965.60,1042.70 967.00,1047.70 968.40,1047.70 C969.97,1047.70 971.53,1001.80 973.10,1001.80 C974.37,1001.80 975.63,1034.17 976.90,1049.10 C978.33,1065.99 979.77,1097.10 981.20,1097.10 C983.77,1097.10 986.33,1044.37 988.90,1018.00" fill="none" stroke="#00B050" stroke-width="3.0" stroke-linejoin="round" stroke-linecap="round" clip-path="url(#clipB)"/>
<path d="M155.5,10.5 H982.2 V596.1" fill="none" stroke="#333" stroke-width="1.3"/>
<path d="M155.5,596.1 H982.2" fill="none" stroke="#444" stroke-width="1.4"/>
<path d="M155.5,9.9 V596.7" fill="none" stroke="#222" stroke-width="1.3"/>
<path d="M155.5,498.5 h8.5 M155.5,400.9 h8.5 M155.5,303.3 h8.5 M155.5,205.7 h8.5 M155.5,108.1 h8.5 M265.9,596.1 v-8.5 M376.1,596.1 v-8.5 M486.2,596.1 v-8.5 M596.4,596.1 v-8.5 M706.5,596.1 v-8.5 M816.6,596.1 v-8.5 M926.8,596.1 v-8.5" stroke="#1a1a1a" stroke-width="1.2" fill="none"/>
<text transform="translate(129.5,605.7) scale(1,1.07)" text-anchor="end" class="tk">-3</text>
<text transform="translate(129.5,508.1) scale(1,1.07)" text-anchor="end" class="tk">-2</text>
<text transform="translate(129.5,410.5) scale(1,1.07)" text-anchor="end" class="tk">-1</text>
<text transform="translate(129.5,312.9) scale(1,1.07)" text-anchor="end" class="tk">0</text>
<text transform="translate(129.5,215.3) scale(1,1.07)" text-anchor="end" class="tk">1</text>
<text transform="translate(129.5,117.7) scale(1,1.07)" text-anchor="end" class="tk">2</text>
<text transform="translate(129.5,20.1) scale(1,1.07)" text-anchor="end" class="tk">3</text>
<text transform="translate(155.8,640.1) scale(1,1.07)" text-anchor="middle" class="tk">0</text>
<text transform="translate(265.9,640.1) scale(1,1.07)" text-anchor="middle" class="tk">2</text>
<text transform="translate(376.1,640.1) scale(1,1.07)" text-anchor="middle" class="tk">4</text>
<text transform="translate(486.2,640.1) scale(1,1.07)" text-anchor="middle" class="tk">6</text>
<text transform="translate(596.4,640.1) scale(1,1.07)" text-anchor="middle" class="tk">8</text>
<text transform="translate(706.5,640.1) scale(1,1.07)" text-anchor="middle" class="tk">10</text>
<text transform="translate(816.6,640.1) scale(1,1.07)" text-anchor="middle" class="tk">12</text>
<text transform="translate(926.8,640.1) scale(1,1.07)" text-anchor="middle" class="tk">14</text>
<text x="576" y="687.3" text-anchor="middle" class="ti">Time [ps]</text>
<text transform="translate(34.6,581) rotate(-90)" x="0" y="0" class="ti" textLength="544.5" lengthAdjust="spacingAndGlyphs">Normalized electric field [a.u.]</text>
<text x="169.3" y="67.0" class="lab" style="font-size:33.4px">(a)</text>
<path d="M634,39.6 H670.5" stroke="#4A7FC6" stroke-width="2.6" stroke-linecap="round"/>
<text x="674" y="50.1" class="lg">LN waveguide</text>
<path d="M634,79.6 H670.5" stroke="#F79646" stroke-width="2.6" stroke-linecap="round"/>
<text x="674" y="90.1" class="lg">LN bulk (f = 150 mm)</text>
<path d="M634,119.6 H670.5" stroke="#00B050" stroke-width="2.6" stroke-linecap="round"/>
<text x="674" y="130.1" class="lg">LN bulk (f = 4.5 mm)</text>
<path d="M151.0,729.1 H989.6 V1316.4" fill="none" stroke="#555" stroke-width="1.2"/>
<path d="M151.0,728.6 V1316.4" fill="none" stroke="#6a6a6a" stroke-width="1.5"/>
<path d="M150.3,1316.4 H989.6" fill="none" stroke="#222" stroke-width="1.1"/>
<path d="M151.0,1281.0 h5.9 M151.0,1260.4 h5.9 M151.0,1245.7 h5.9 M151.0,1234.3 h5.9 M151.0,1225.0 h5.9 M151.0,1217.1 h5.9 M151.0,1210.3 h5.9 M151.0,1204.3 h5.9 M151.0,1198.9 h8.7 M151.0,1163.6 h5.9 M151.0,1142.9 h5.9 M151.0,1128.2 h5.9 M151.0,1116.8 h5.9 M151.0,1107.5 h5.9 M151.0,1099.7 h5.9 M151.0,1092.9 h5.9 M151.0,1086.9 h5.9 M151.0,1081.5 h8.7 M151.0,1046.1 h5.9 M151.0,1025.4 h5.9 M151.0,1010.8 h5.9 M151.0,999.4 h5.9 M151.0,990.1 h5.9 M151.0,982.2 h5.9 M151.0,975.4 h5.9 M151.0,969.4 h5.9 M151.0,964.0 h8.7 M151.0,928.7 h5.9 M151.0,908.0 h5.9 M151.0,893.3 h5.9 M151.0,881.9 h5.9 M151.0,872.6 h5.9 M151.0,864.8 h5.9 M151.0,857.9 h5.9 M151.0,851.9 h5.9 M151.0,846.6 h8.7 M151.0,811.2 h5.9 M151.0,790.5 h5.9 M151.0,775.8 h5.9 M151.0,764.5 h5.9 M151.0,755.2 h5.9 M151.0,747.3 h5.9 M151.0,740.5 h5.9 M151.0,734.5 h5.9" stroke="#222" stroke-width="1.2" fill="none"/>
<path d="M290.8,1316.4 v-9 M430.5,1316.4 v-9 M570.3,1316.4 v-9 M710.1,1316.4 v-9 M849.8,1316.4 v-9" stroke="#666" stroke-width="1.3" fill="none"/>
<text transform="translate(126.1,738.6) scale(1,1.07)" text-anchor="end" class="tk">10</text>
<text transform="translate(125.6,856.1) scale(1,1.07)" text-anchor="end" class="tk">1</text>
<text transform="translate(123.9,973.5) scale(1,1.07)" text-anchor="end" class="tk">0.1</text>
<text transform="translate(124.5,1091.0) scale(1,1.07)" text-anchor="end" class="tk">0.01</text>
<text transform="translate(123.9,1208.4) scale(1,1.07)" text-anchor="end" class="tk">0.001</text>
<text transform="translate(123.6,1325.9) scale(1,1.07)" text-anchor="end" class="tk">0.0001</text>
<text transform="translate(151.0,1360.3) scale(1,1.07)" text-anchor="middle" class="tk">0</text>
<text transform="translate(290.8,1360.3) scale(1,1.07)" text-anchor="middle" class="tk">1</text>
<text transform="translate(430.5,1360.3) scale(1,1.07)" text-anchor="middle" class="tk">2</text>
<text transform="translate(570.3,1360.3) scale(1,1.07)" text-anchor="middle" class="tk">3</text>
<text transform="translate(710.1,1360.3) scale(1,1.07)" text-anchor="middle" class="tk">4</text>
<text transform="translate(849.8,1360.3) scale(1,1.07)" text-anchor="middle" class="tk">5</text>
<text transform="translate(989.6,1360.3) scale(1,1.07)" text-anchor="middle" class="tk">6</text>
<text x="546" y="1404.4" text-anchor="middle" class="ti">Frequency [THz]</text>
<text transform="translate(32,1312.4) rotate(-90)" x="0" y="0" class="ti" textLength="574" lengthAdjust="spacingAndGlyphs">Normalized FFT amplitude [a.u]</text>
<text x="169.5" y="778.6" class="lab">(b)</text>
<path d="M588,803.4 H625" stroke="#4472C4" stroke-width="2.8" stroke-linecap="round"/>
<text x="629" y="812.9" class="lg">LN waveguide</text>
<path d="M588,845.0 H625" stroke="#ED7D31" stroke-width="2.8" stroke-linecap="round"/>
<text x="629" y="854.5" class="lg">LN bulk (f = 150 mm)</text>
<path d="M588,886.6 H625" stroke="#00B050" stroke-width="2.8" stroke-linecap="round"/>
<text x="629" y="896.1" class="lg">LN bulk (f = 4.5 mm)</text>
</svg>
</body></html>
